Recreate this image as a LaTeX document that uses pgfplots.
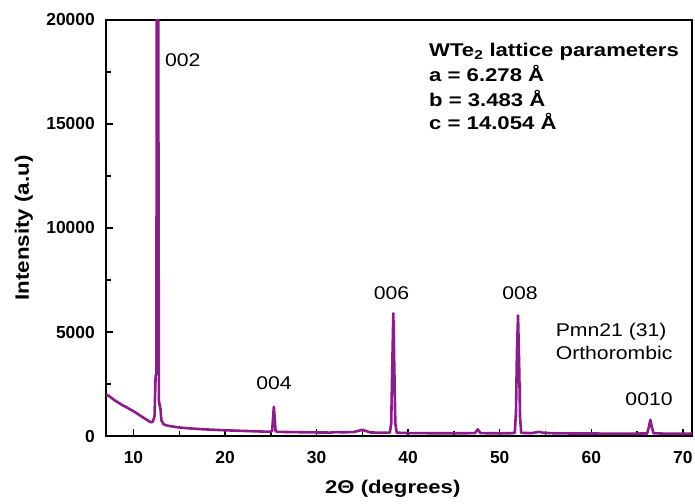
\documentclass[border=0pt]{standalone}
\usepackage{fontspec}
\setmainfont{Liberation Sans}
\newfontfamily\annot[FakeStretch=1.15]{Liberation Sans}
\newfontfamily\wideb[FakeStretch=1.2]{Liberation Sans}
\usepackage{pgfplots}
\pgfplotsset{compat=1.18}
\definecolor{xrd}{RGB}{142,26,140}
\begin{document}
\begin{tikzpicture}
\begin{axis}[
  name=ax,
  scale only axis,
  width=586bp, height=416bp,
  xmin=7, xmax=71, ymin=0, ymax=20000,
  xtick={10,20,...,70}, minor xtick={15,25,...,65},
  ytick={0,5000,...,20000}, minor ytick={2500,7500,...,17500},
  tick align=inside,
  xtick pos=bottom, ytick pos=left,
  major tick length=7bp, minor tick length=5bp,
  every tick/.style={line width=1.4bp, black},
  axis line style={line width=1.7bp},
  scaled y ticks=false,
  /pgf/number format/assume math mode=true,
  /pgf/number format/1000 sep={},
  ticklabel style={font=\bfseries\fontsize{17.5}{17.5}\selectfont, inner sep=0pt},
  xticklabel style={anchor=base, yshift=-27bp},
  yticklabel style={anchor=east, xshift=-11bp},
  xlabel={2Θ (degrees)},
  ylabel={Intensity (a.u)},
  xlabel style={font=\wideb\bfseries\fontsize{18.5}{18.5}\selectfont, inner sep=0pt,
    at={(axis description cs:0.3737,0)}, anchor=base west, yshift=-57bp},
  ylabel style={font=\annot\bfseries\fontsize{19.5}{19.5}\selectfont, inner sep=0pt,
    at={(axis description cs:-0.140,0.5)}, anchor=center},
  clip=true,
]
\addplot[color=xrd, line width=2.6bp, line join=round] coordinates {
(7.0,2000) (7.3,1930) (7.6,1830) (8.0,1700) (8.4,1590) (8.8,1480) (9.2,1390) (9.6,1290)
(10.0,1190) (10.4,1080) (10.8,960) (11.2,850) (11.6,740) (11.9,660) (12.1,680) (12.3,950)
(12.42,2900) (12.5,3000) (12.55,21000) (12.7,21000) (12.78,1700) (12.85,1500) (12.95,1300)
(13.05,750) (13.3,560) (13.7,500) (14.2,460) (15.0,410) (16.0,370) (17.0,340) (18.0,315)
(19.0,295) (20.0,275) (21.0,260) (22.0,245) (23.0,230) (24.0,215) (25.0,205) (25.15,260)
(25.25,900) (25.33,1400) (25.42,900) (25.52,240) (25.7,200) (27.0,190) (28.5,180) (30.0,170)
(31.5,165) (32.2,190) (32.8,175) (34.0,190) (34.6,250) (35.0,300) (35.4,240) (35.9,170)
(37.0,160) (38.0,160) (38.15,600) (38.25,3000) (38.38,5900) (38.5,3000) (38.6,600) (38.75,160)
(40.0,140) (42.0,135) (44.0,130) (46.0,130) (47.3,140) (47.6,320) (47.9,140) (49.0,130)
(51.0,130) (51.65,150) (51.78,1200) (51.88,4000) (52.0,5800) (52.12,3500) (52.22,900)
(52.35,150) (53.5,140) (54.3,200) (54.8,150) (56.0,130) (58.0,120) (60.0,120) (62.0,115)
(64.0,115) (66.1,120) (66.3,450) (66.45,780) (66.6,450) (66.8,130) (68.0,115) (70.0,110) (71.0,110)
};
\begin{scope}[every node/.style={inner sep=0pt, font=\annot\fontsize{18.5}{18.5}\selectfont}]
\node[anchor=base west] at (axis cs:13.44,17755) {002};
\node[anchor=base] at (axis cs:25.35,2212) {004};
\node[anchor=base] at (axis cs:38.18,6560) {006};
\node[anchor=base] at (axis cs:52.22,6540) {008};
\node[anchor=base] at (axis cs:66.31,1490) {0010};
\node[anchor=base west] at (axis cs:56.1,4760) {Pmn21 (31)};
\node[anchor=base west] at (axis cs:56.1,3654) {Orthorombic};
\end{scope}
\begin{scope}[every node/.style={inner sep=0pt, anchor=base west, font=\wideb\bfseries\fontsize{18.5}{18.5}\selectfont}]
\node at (axis cs:42.28,18269) {WTe\textsubscript{2} lattice parameters};
\node at (axis cs:42.28,17034) {a = 6.278 Å};
\node at (axis cs:42.28,15865) {b = 3.483 Å};
\node at (axis cs:42.28,14712) {c = 14.054 Å};
\end{scope}
\end{axis}
\pgfresetboundingbox
\path[use as bounding box] ([xshift=-106bp,yshift=-68bp]ax.south west) rectangle ([xshift=3bp,yshift=20bp]ax.north east);
\end{tikzpicture}
\end{document}
